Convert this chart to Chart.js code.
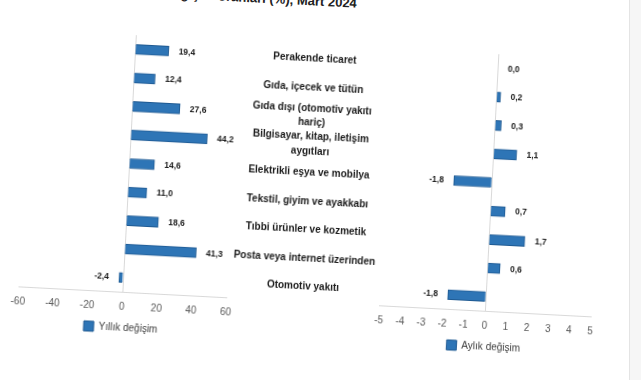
<!DOCTYPE html>
<html><head><meta charset="utf-8">
<script src="https://cdn.jsdelivr.net/npm/chart.js@4.4.1/dist/chart.umd.min.js"></script>
<style>
html,body{margin:0;padding:0;background:#fff;overflow:hidden;width:641px;height:380px}
#wrap{position:absolute;left:0;top:0;width:641px;height:380px;transform:rotate(3deg);transform-origin:320px 190px}
#title{position:absolute;left:0;width:347px;top:-6px;line-height:15px;text-align:right;font:bold 13px "Liberation Sans",Arial,sans-serif;color:#222;white-space:nowrap}
#c1{position:absolute;left:0;top:0}
#c2{position:absolute;left:372px;top:0}
#edge{position:absolute;left:629px;top:0;width:12px;height:380px;background:#f6f6f6;border-left:1px solid #e4e4e4}
</style></head>
<body>
<div id="wrap">
<div id="title">Perakende satış hacmi değişim oranları (%), Mart 2024</div>
<canvas id="c1" width="390" height="380"></canvas>
<canvas id="c2" width="250" height="380"></canvas>
</div>
<div id="edge"></div>
<script>
const categories = [
  "Perakende ticaret",
  "Gıda, içecek ve tütün",
  ["Gıda dışı (otomotiv yakıtı", "hariç)"],
  ["Bilgisayar, kitap, iletişim", "aygıtları"],
  "Elektrikli eşya ve mobilya",
  "Tekstil, giyim ve ayakkabı",
  "Tıbbi ürünler ve kozmetik",
  "Posta veya internet üzerinden",
  "Otomotiv yakıtı"
];
const yillik = [19.4, 12.4, 27.6, 44.2, 14.6, 11.0, 18.6, 41.3, -2.4];
const aylik = [0.0, 0.2, 0.3, 1.1, -1.8, 0.7, 1.7, 0.6, -1.8];
const yillikTicks = [-60, -40, -20, 0, 20, 40, 60];
const aylikTicks = [-5, -4, -3, -2, -1, 0, 1, 2, 3, 4, 5];
const yillikLabel = "Yıllık değişim";
const aylikLabel = "Aylık değişim";

const SANS = '"Liberation Sans",Arial,sans-serif';
const BLUE = '#2e75b6';
const BLUE_BORDER = '#1f5a92';

const valueLabels = {
  id: 'valueLabels',
  afterDatasetsDraw(chart) {
    const ctx = chart.ctx;
    const ds = chart.data.datasets[0];
    const meta = chart.getDatasetMeta(0);
    ctx.save();
    ctx.font = 'bold 8.5px ' + SANS;
    ctx.fillStyle = '#1a1a1a';
    ctx.textBaseline = 'middle';
    meta.data.forEach((bar, i) => {
      const v = ds.data[i];
      const txt = v.toFixed(1).replace('.', ',');
      if (v < 0) { ctx.textAlign = 'right'; ctx.fillText(txt, bar.x - 10, bar.y); }
      else { ctx.textAlign = 'left'; ctx.fillText(txt, bar.x + 10, bar.y); }
    });
    ctx.restore();
  }
};

const LABEL_FONT = { size: 10, weight: 'bold', family: SANS, lineHeight: 1.45 };
const mctx = document.createElement('canvas').getContext('2d');
mctx.font = 'bold 10px ' + SANS;
let widest = 0;
categories.forEach(c => [].concat(c).forEach(l => { widest = Math.max(widest, mctx.measureText(l).width); }));
const labelPad = Math.max(0, 76 - widest / 2);

function xScale(ticksArr) {
  return {
    min: ticksArr[0], max: ticksArr[ticksArr.length - 1],
    afterBuildTicks(s) { s.ticks = ticksArr.map(v => ({ value: v })); },
    grid: { color: c => (c.tick && c.tick.value === 0) ? '#d9d9d9' : 'rgba(0,0,0,0)', drawTicks: false },
    border: { display: true, color: '#d9d9d9' },
    ticks: { padding: 9, color: '#595959', font: { size: 10, family: SANS } }
  };
}

function legendOpts() {
  return {
    position: 'bottom', fullSize: false,
    labels: { boxWidth: 10, boxHeight: 10, padding: 1, color: '#404040', font: { size: 10, family: SANS } }
  };
}

new Chart(document.getElementById('c1'), {
  type: 'bar',
  data: { labels: categories, datasets: [{ label: yillikLabel, data: yillik, backgroundColor: BLUE, borderColor: BLUE_BORDER, borderWidth: 1, barThickness: 10 }] },
  options: {
    responsive: false, animation: false, indexAxis: 'y',
    layout: { padding: { left: 24, right: 0, top: 45, bottom: 27 } },
    scales: {
      x: xScale(yillikTicks),
      y: {
        position: 'right',
        grid: { display: false, drawTicks: false },
        border: { display: false },
        afterFit(s) { s.width = 158; },
        ticks: { autoSkip: false, crossAlign: 'center', padding: labelPad, color: '#1a1a1a', font: LABEL_FONT }
      }
    },
    plugins: { legend: legendOpts(), tooltip: { enabled: false } }
  },
  plugins: [valueLabels]
});

new Chart(document.getElementById('c2'), {
  type: 'bar',
  data: { labels: categories, datasets: [{ label: aylikLabel, data: aylik, backgroundColor: BLUE, borderColor: BLUE_BORDER, borderWidth: 1, barThickness: 10 }] },
  options: {
    responsive: false, animation: false, indexAxis: 'y',
    layout: { padding: { left: 13, right: 25, top: 45, bottom: 27 } },
    scales: {
      x: xScale(aylikTicks),
      y: { display: false }
    },
    plugins: { legend: legendOpts(), tooltip: { enabled: false } }
  },
  plugins: [valueLabels]
});
</script>
</body></html>
